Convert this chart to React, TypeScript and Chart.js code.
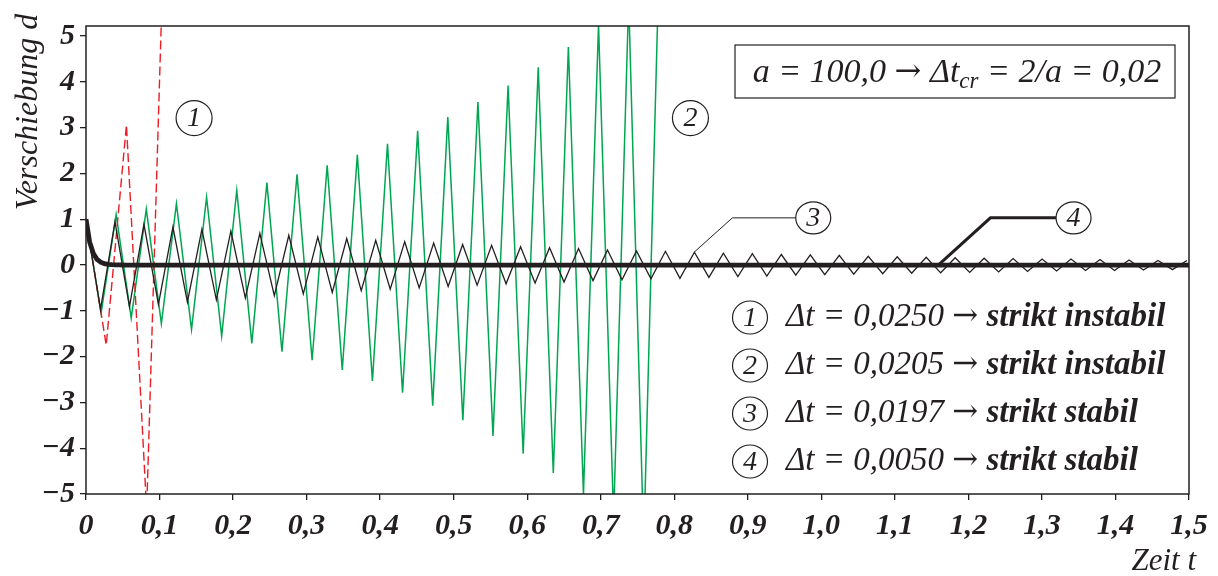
import React, { useEffect, useRef } from "react";
import { Chart, registerables } from "chart.js";

Chart.register(...registerables);

const SERIF = '"Liberation Serif", "Times New Roman", serif';
const ARROW_FONT = '"DejaVu Serif", serif';
const INK = "#231f20";
const RED = "#ec1c24";
const GREEN = "#00a651";

// Zeitschritte der einzelnen Lösungen
const STEP_2 = 0.0205;
const STEP_3 = 0.0197;
const STEP_4 = 0.005;

// (1) Δt = 0,0250: explodierende Lösung
const RED_T = [0, 0.0275, 0.055, 0.0825, 0.11];
const RED_D = [1, -1.75, 3.06, -5.36, 9.38];

// (2) Δt = 0,0205: langsam aufschwingend
const GREEN_D = [
  1, -1.05, 1.1, -1.16, 1.22, -1.28, 1.34, -1.41, 1.48, -1.55, 1.63, -1.71, 1.8,
  -1.89, 1.98, -2.08, 2.18, -2.29, 2.41, -2.53, 2.65, -2.79, 2.93, -3.07, 3.23,
  -3.39, 3.56, -3.73, 3.92, -4.12, 4.32, -4.54, 4.76, -5.0, 5.25, -5.52, 5.79,
  -6.08, 6.39,
];

// (3) Δt = 0,0197: langsam abklingend
const BLACK_D = [
  1, -0.97, 0.94, -0.91, 0.89, -0.86, 0.83, -0.81, 0.78, -0.76, 0.74, -0.72, 0.69,
  -0.67, 0.65, -0.63, 0.61, -0.6, 0.58, -0.56, 0.54, -0.53, 0.51, -0.5, 0.48,
  -0.47, 0.45, -0.44, 0.43, -0.41, 0.4, -0.39, 0.38, -0.37, 0.36, -0.34, 0.33,
  -0.32, 0.31, -0.3, 0.3, -0.29, 0.28, -0.27, 0.26, -0.25, 0.25, -0.24, 0.23,
  -0.22, 0.22, -0.21, 0.21, -0.2, 0.19, -0.19, 0.18, -0.18, 0.17, -0.17, 0.16,
  -0.16, 0.15, -0.15, 0.14, -0.14, 0.13, -0.13, 0.13, -0.12, 0.12, -0.12, 0.11,
  -0.11, 0.1, -0.1, 0.1,
];

// (4) Δt = 0,0050: sofort abklingend, danach Null bis Ende
const THICK_D = [1, 0.5, 0.25, 0.125, 0.063, 0.031, 0.016, 0.008, 0.004, 0.002, 0.001, 0];
const T_END = 1.5;

const X_TICKS = [0, 0.1, 0.2, 0.3, 0.4, 0.5, 0.6, 0.7, 0.8, 0.9, 1.0, 1.1, 1.2, 1.3, 1.4, 1.5];
const X_LABELS = ["0", "0,1", "0,2", "0,3", "0,4", "0,5", "0,6", "0,7", "0,8", "0,9", "1,0", "1,1", "1,2", "1,3", "1,4", "1,5"];
const Y_TICKS = [-5, -4, -3, -2, -1, 0, 1, 2, 3, 4, 5];
const Y_LABELS = ["\u22125", "\u22124", "\u22123", "\u22122", "\u22121", "0", "1", "2", "3", "4", "5"];

const LEGEND_NUMS = ["1", "2", "3", "4"];
const LEGEND_DT = ["0,0250", "0,0205", "0,0197", "0,0050"];
const LEGEND_STATE = ["strikt instabil", "strikt instabil", "strikt stabil", "strikt stabil"];

type Run = { t: string; font: string; dy?: number };

function drawRuns(ctx: CanvasRenderingContext2D, runs: Run[], x: number, y: number, align: "left" | "center" | "right") {
  let total = 0;
  const widths = runs.map((r) => {
    ctx.font = r.font;
    const w = ctx.measureText(r.t).width;
    total += w;
    return w;
  });
  let cx = align === "left" ? x : align === "center" ? x - total / 2 : x - total;
  ctx.textAlign = "left";
  ctx.textBaseline = "alphabetic";
  runs.forEach((r, i) => {
    ctx.font = r.font;
    ctx.fillText(r.t, cx, y + (r.dy || 0));
    cx += widths[i];
  });
}

function circled(ctx: CanvasRenderingContext2D, cx: number, cy: number, label: string, rx: number, ry: number, size: number) {
  ctx.beginPath();
  ctx.ellipse(cx, cy, rx, ry, 0, 0, Math.PI * 2);
  ctx.lineWidth = 1.2;
  ctx.strokeStyle = INK;
  ctx.stroke();
  ctx.font = `italic ${size}px ${SERIF}`;
  ctx.textAlign = "center";
  ctx.textBaseline = "middle";
  ctx.fillStyle = INK;
  ctx.fillText(label, cx, cy + 1);
}

const overlay = {
  id: "overlay",
  afterDatasetsDraw(chart: any) {
    const { ctx, chartArea: a, scales } = chart;
    const x = scales.x;
    const y = scales.y;
    ctx.save();
    ctx.fillStyle = INK;
    ctx.strokeStyle = INK;

    // Rahmen des Diagrammbereichs
    ctx.lineWidth = 1.5;
    ctx.strokeRect(a.left, a.top, a.right - a.left, a.bottom - a.top);

    // Kennziffern an den Kurven
    circled(ctx, x.getPixelForValue(0.147), y.getPixelForValue(3.21), "1", 18, 17.5, 28);
    circled(ctx, x.getPixelForValue(0.822), y.getPixelForValue(3.21), "2", 18, 17.5, 28);
    circled(ctx, x.getPixelForValue(0.989), y.getPixelForValue(1.03), "3", 17.5, 16, 28);
    circled(ctx, x.getPixelForValue(1.343), y.getPixelForValue(1.03), "4", 17.5, 16, 28);

    // Hinweislinie zu (3)
    ctx.lineWidth = 1;
    ctx.beginPath();
    ctx.moveTo(x.getPixelForValue(0.989) - 17.5, y.getPixelForValue(1.03));
    ctx.lineTo(x.getPixelForValue(0.879), y.getPixelForValue(1.03));
    ctx.lineTo(x.getPixelForValue(0.827), y.getPixelForValue(0.28));
    ctx.stroke();

    // Hinweislinie zu (4)
    ctx.lineWidth = 3;
    ctx.beginPath();
    ctx.moveTo(x.getPixelForValue(1.343) - 17.5, y.getPixelForValue(1.03));
    ctx.lineTo(x.getPixelForValue(1.23), y.getPixelForValue(1.03));
    ctx.lineTo(x.getPixelForValue(1.159), y.getPixelForValue(0));
    ctx.stroke();

    // Kasten mit kritischem Zeitschritt
    ctx.lineWidth = 1.2;
    ctx.fillStyle = "#ffffff";
    ctx.fillRect(735, 45, 440, 53);
    ctx.strokeRect(735, 45, 440, 53);
    ctx.fillStyle = INK;
    const it34 = `italic 34px ${SERIF}`;
    drawRuns(
      ctx,
      [
        { t: "a = 100,0 ", font: it34 },
        { t: "\u2192", font: `32px ${ARROW_FONT}`, dy: -1 },
        { t: " \u0394t", font: it34 },
        { t: "cr", font: `italic 23px ${SERIF}`, dy: 6 },
        { t: " = 2/a = 0,02", font: it34 },
      ],
      957,
      82,
      "center"
    );

    // Legende
    LEGEND_NUMS.forEach((n, i) => {
      const cy = 317.5 + i * 48;
      circled(ctx, 750, cy, n, 17.5, 16.5, 28);
      ctx.fillStyle = INK;
      drawRuns(
        ctx,
        [
          { t: `\u0394t = ${LEGEND_DT[i]} `, font: `italic 33px ${SERIF}` },
          { t: "\u2192", font: `31px ${ARROW_FONT}`, dy: -1 },
          { t: " ", font: `italic 33px ${SERIF}` },
          { t: LEGEND_STATE[i], font: `italic bold 33px ${SERIF}` },
        ],
        786,
        326 + i * 48,
        "left"
      );
    });

    // Achsentitel
    ctx.fillStyle = INK;
    ctx.font = `italic 31px ${SERIF}`;
    ctx.textAlign = "right";
    ctx.textBaseline = "alphabetic";
    ctx.fillText("Zeit t", 1196, 570);

    ctx.save();
    ctx.font = `italic 32px ${SERIF}`;
    ctx.translate(37, 112);
    ctx.rotate(-Math.PI / 2);
    ctx.textAlign = "center";
    ctx.fillText("Verschiebung d", 0, 0);
    ctx.restore();

    ctx.restore();
  },
};

export default function App() {
  const ref = useRef<HTMLCanvasElement | null>(null);

  useEffect(() => {
    if (!ref.current) return;
    const red = RED_T.map((t, i) => ({ x: t, y: RED_D[i] }));
    const green = GREEN_D.map((d, i) => ({ x: i * STEP_2, y: d }));
    const black = BLACK_D.map((d, i) => ({ x: i * STEP_3, y: d }));
    const thick = THICK_D.map((d, i) => ({ x: i * STEP_4, y: d }));
    thick.push({ x: T_END, y: 0 });

    const tickFont = { family: SERIF, size: 30, style: "italic" as const, weight: "bold" as const };

    const chart = new Chart(ref.current, {
      type: "line",
      data: {
        datasets: [
          { data: thick, borderColor: INK, borderWidth: 4.8, pointRadius: 0, order: 0, tension: 0 },
          { data: black, borderColor: INK, borderWidth: 1.3, pointRadius: 0, order: 1 },
          { data: red, borderColor: RED, borderWidth: 1.4, borderDash: [9, 4], pointRadius: 0, order: 2 },
          { data: green, borderColor: GREEN, borderWidth: 1.5, pointRadius: 0, order: 3 },
        ],
      },
      options: {
        animation: false,
        responsive: false,
        maintainAspectRatio: false,
        layout: { padding: { left: 0, top: 26, right: 29, bottom: 0 } },
        plugins: { legend: { display: false }, tooltip: { enabled: false } },
        scales: {
          x: {
            type: "linear",
            min: 0,
            max: 1.5,
            afterBuildTicks: (s: any) => {
              s.ticks = X_TICKS.map((v) => ({ value: v }));
            },
            afterFit: (s: any) => {
              s.height = 82;
            },
            ticks: {
              autoSkip: false,
              maxRotation: 0,
              padding: 8,
              color: INK,
              font: tickFont,
              callback: (_v: any, i: number) => X_LABELS[i],
            },
            grid: { drawOnChartArea: false, drawTicks: true, tickLength: 6, color: INK, lineWidth: 1.3 },
            border: { display: false },
          },
          y: {
            type: "linear",
            min: -5,
            max: 5.22,
            afterBuildTicks: (s: any) => {
              s.ticks = Y_TICKS.map((v) => ({ value: v }));
            },
            afterFit: (s: any) => {
              s.width = 86;
            },
            ticks: {
              autoSkip: false,
              padding: 5,
              color: INK,
              font: tickFont,
              callback: (_v: any, i: number) => Y_LABELS[i],
            },
            grid: { drawOnChartArea: false, drawTicks: true, tickLength: 6, color: INK, lineWidth: 1.3 },
            border: { display: false },
          },
        },
      },
      plugins: [overlay],
    });
    return () => chart.destroy();
  }, []);

  return (
    <div style={{ position: "absolute", left: 0, top: 0, width: 1218, height: 576, background: "#fff" }}>
      <canvas ref={ref} width={1218} height={576} />
    </div>
  );
}
